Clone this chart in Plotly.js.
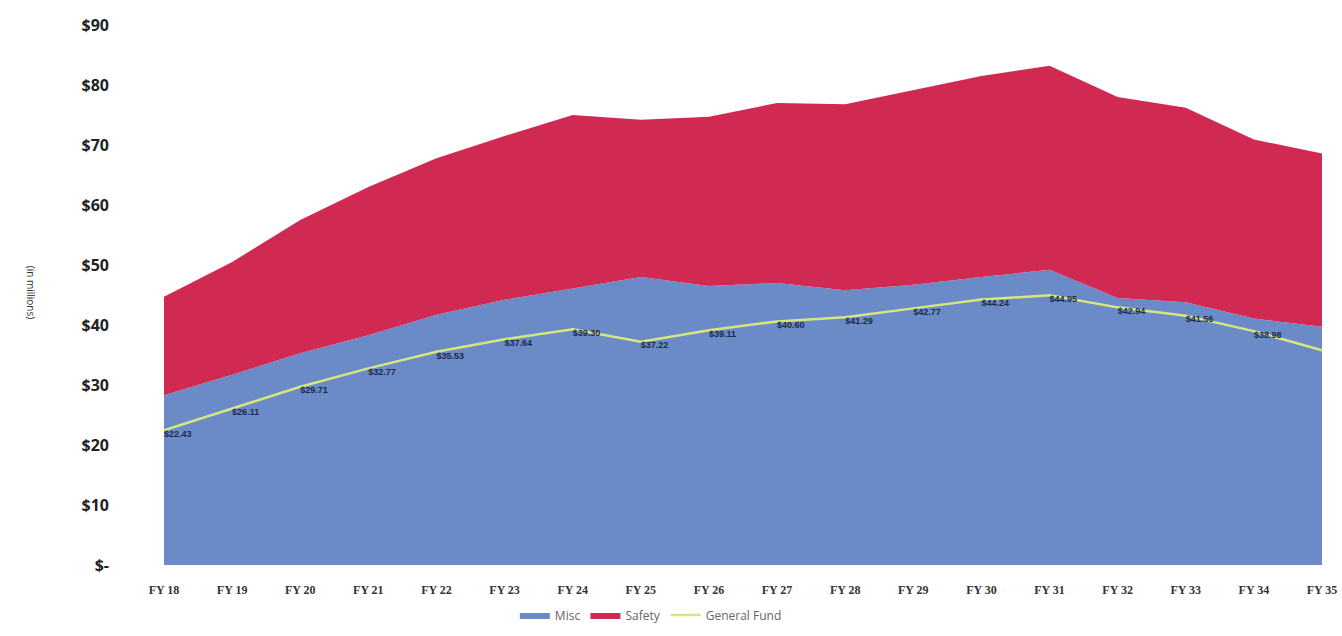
<!DOCTYPE html>
<html>
<head>
<meta charset="utf-8">
<script src="https://cdn.plot.ly/plotly-3.0.1.min.js"></script>
<style>html,body{margin:0;padding:0;background:#fff;}</style>
</head>
<body>
<div id="chart" style="width:1342px;height:636px;"></div>
<script>
const categories = ['FY 18','FY 19','FY 20','FY 21','FY 22','FY 23','FY 24','FY 25','FY 26','FY 27','FY 28','FY 29','FY 30','FY 31','FY 32','FY 33','FY 34','FY 35'];
const misc = [28.3, 31.7, 35.3, 38.3, 41.7, 44.2, 46.1, 48.0, 46.5, 47.0, 45.8, 46.7, 48.0, 49.2, 44.5, 43.8, 41.1, 39.7];
const safety = [16.4, 18.8, 22.2, 24.7, 26.1, 27.3, 28.9, 26.2, 28.2, 30.0, 31.0, 32.5, 33.5, 34.0, 33.5, 32.4, 29.8, 28.9];
const generalFund = [22.43, 26.11, 29.71, 32.77, 35.53, 37.64, 39.30, 37.22, 39.11, 40.60, 41.29, 42.77, 44.24, 44.95, 42.94, 41.56, 38.98, 35.8];
const fundLabels = ['$22.43','$26.11','$29.71','$32.77','$35.53','$37.64','$39.30','$37.22','$39.11','$40.60','$41.29','$42.77','$44.24','$44.95','$42.94','$41.56','$38.98',''];
const yTickVals = [0,10,20,30,40,50,60,70,80,90];
const yTickText = ['$-','$10','$20','$30','$40','$50','$60','$70','$80','$90'];

const traces = [
  {type:'scatter', mode:'lines', name:'Misc', x:categories, y:misc, stackgroup:'one',
   line:{width:0, color:'#6a8bc8'}, fillcolor:'#6a8bc8', hoverinfo:'skip'},
  {type:'scatter', mode:'lines', name:'Safety', x:categories, y:safety, stackgroup:'one',
   line:{width:0, color:'#d12a52'}, fillcolor:'#d12a52', hoverinfo:'skip'},
  {type:'scatter', mode:'lines+text', name:'General Fund', x:categories, y:generalFund,
   line:{width:2.5, color:'#d6e67e'}, text:fundLabels, textposition:'bottom right',
   textfont:{family:'Liberation Sans Narrow, Liberation Sans, sans-serif', size:9, color:'#1c2a48', weight:'bold'},
   cliponaxis:false}
];

const layout = {
  width:1342, height:636,
  margin:{l:164, r:20, t:25, b:71},
  paper_bgcolor:'#fff', plot_bgcolor:'#fff',
  showlegend:true,
  legend:{orientation:'h', xref:'container', yref:'container', x:0.485, xanchor:'center', y:0.033, yanchor:'middle',
          font:{family:'Open Sans, sans-serif', size:12, color:'#666'}, itemwidth:30, traceorder:'normal'},
  xaxis:{type:'category', range:[0,17], showgrid:false, zeroline:false, showline:false, ticks:'',
         tickfont:{family:'Liberation Serif, serif', size:12, color:'#333', weight:'bold'}, ticklabelstandoff:16, fixedrange:true},
  yaxis:{range:[0,90], tickvals:yTickVals, ticktext:yTickText, showgrid:false, zeroline:false, showline:false, ticks:'',
         tickfont:{family:'Open Sans, sans-serif', size:16, color:'#222', weight:'bold'}, ticklabelstandoff:54, fixedrange:true},
  annotations:[{text:'(in millions)', xref:'paper', yref:'paper', x:(22-164)/1158, y:0.506, showarrow:false,
                textangle:90, font:{family:'Open Sans, sans-serif', size:10, color:'#333'}}]
};

Plotly.newPlot('chart', traces, layout, {displayModeBar:false, staticPlot:true});
</script>
</body>
</html>
